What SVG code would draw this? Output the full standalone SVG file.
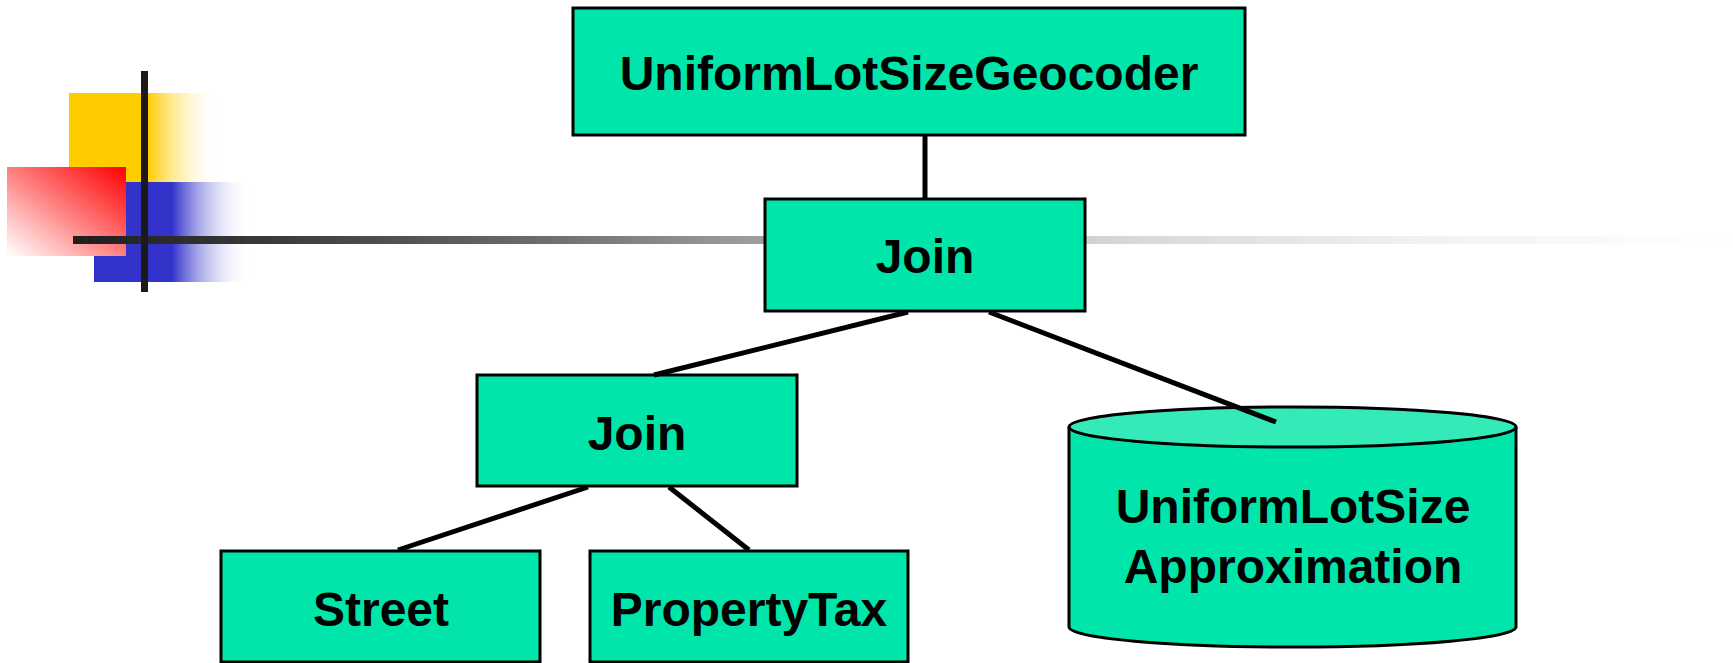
<svg xmlns="http://www.w3.org/2000/svg" width="1733" height="663" viewBox="0 0 1733 663">
<defs>
<style>
.box{fill:#00e6aa;stroke:#000;stroke-width:3}
.lbl{font-family:"Liberation Sans",Arial,sans-serif;font-weight:bold;font-size:48px;fill:#000;text-anchor:middle}
.edge{stroke:#000;stroke-width:5;fill:none}
</style>
<linearGradient id="gY" x1="69" y1="0" x2="220" y2="0" gradientUnits="userSpaceOnUse">
<stop offset="0" stop-color="#ffcc00"/>
<stop offset="0.52" stop-color="#ffcc00"/>
<stop offset="1" stop-color="#ffffff" stop-opacity="0"/>
</linearGradient>
<linearGradient id="gB" x1="94" y1="0" x2="250" y2="0" gradientUnits="userSpaceOnUse">
<stop offset="0" stop-color="#3333cc"/>
<stop offset="0.5" stop-color="#3333cc"/>
<stop offset="1" stop-color="#ffffff" stop-opacity="0"/>
</linearGradient>
<linearGradient id="gR" x1="1" y1="0" x2="0" y2="1">
<stop offset="0" stop-color="#ff0000"/>
<stop offset="1" stop-color="#ffffff"/>
</linearGradient>
<linearGradient id="gL" x1="73" y1="0" x2="1733" y2="0" gradientUnits="userSpaceOnUse">
<stop offset="0" stop-color="#1e1e1e"/>
<stop offset="0.118" stop-color="#3a3a3a"/>
<stop offset="0.275" stop-color="#6a6a6a"/>
<stop offset="0.396" stop-color="#999999"/>
<stop offset="0.637" stop-color="#d8d8d8"/>
<stop offset="0.818" stop-color="#f2f2f2"/>
<stop offset="0.962" stop-color="#fdfdfd"/>
<stop offset="1" stop-color="#ffffff"/>
</linearGradient>
</defs>
<rect width="1733" height="663" fill="#ffffff"/>
<g id="logo">
<rect x="69" y="93" width="151" height="89" fill="url(#gY)"/>
<rect x="94" y="182" width="156" height="100" fill="url(#gB)"/>
<rect x="7" y="167" width="119" height="89" fill="url(#gR)"/>
<rect x="73" y="236" width="1660" height="8" fill="url(#gL)"/>
<rect x="141" y="71" width="7" height="221" fill="#1a1a1a"/>
</g>
<g id="geocoder">
<rect class="box" x="573" y="8" width="672" height="127"/>
<text class="lbl" x="909" y="90">UniformLotSizeGeocoder</text>
</g>
<g id="join1">
<rect class="box" x="765" y="199" width="320" height="112"/>
<text class="lbl" x="925" y="273">Join</text>
</g>
<g id="join2">
<rect class="box" x="477" y="375" width="320" height="111"/>
<text class="lbl" x="637" y="450">Join</text>
</g>
<g id="street">
<rect class="box" x="221" y="551" width="319" height="111"/>
<text class="lbl" x="381" y="626">Street</text>
</g>
<g id="propertytax">
<rect class="box" x="590" y="551" width="318" height="111"/>
<text class="lbl" x="749" y="626">PropertyTax</text>
</g>
<g id="approximation">
<path d="M1069,427 L1069,627 A223.5,20 0 0 0 1516,627 L1516,427" fill="#00e6aa" stroke="#000" stroke-width="3"/>
<ellipse cx="1292.5" cy="427" rx="223.5" ry="20" fill="#33eab8" stroke="#000" stroke-width="3"/>
<text class="lbl" x="1293" y="523">UniformLotSize</text>
<text class="lbl" x="1293" y="583">Approximation</text>
</g>
<g id="connectors">
<line class="edge" x1="925" y1="135" x2="925" y2="199"/>
<line class="edge" x1="908" y1="312" x2="654" y2="375"/>
<line class="edge" x1="989" y1="312" x2="1276" y2="422"/>
<line class="edge" x1="588" y1="487" x2="398" y2="550"/>
<line class="edge" x1="669" y1="487" x2="749" y2="550"/>
</g>
</svg>
